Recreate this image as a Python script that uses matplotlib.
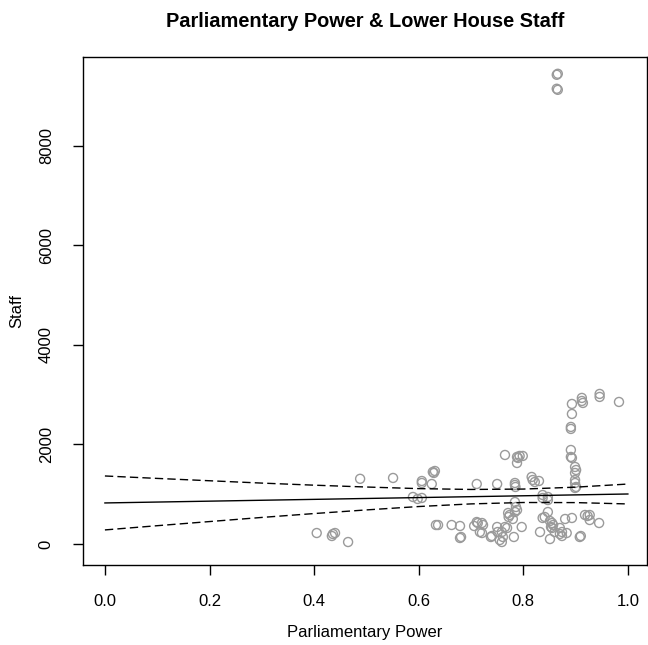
import matplotlib
matplotlib.use("Agg")
import matplotlib.pyplot as plt

plt.rcParams['font.family'] = ['Liberation Sans', 'DejaVu Sans']

# scatter points: parliamentary power vs lower house staff
power = [0.405, 0.434, 0.436, 0.440, 0.465, 0.488, 0.551, 0.589, 0.598, 0.606,
         0.606, 0.606, 0.627, 0.629, 0.631, 0.625, 0.633, 0.637, 0.663, 0.679,
         0.679, 0.681, 0.706, 0.711, 0.713, 0.721, 0.723, 0.717, 0.721, 0.711,
         0.738, 0.740, 0.750, 0.751, 0.755, 0.750, 0.759, 0.761, 0.759, 0.765,
         0.769, 0.765, 0.771, 0.774, 0.772, 0.780, 0.782, 0.784, 0.786, 0.788,
         0.784, 0.784, 0.784, 0.785, 0.788, 0.790, 0.788, 0.793, 0.799, 0.797,
         0.816, 0.818, 0.822, 0.830, 0.832, 0.837, 0.837, 0.847, 0.847, 0.847,
         0.837, 0.841, 0.851, 0.855, 0.853, 0.855, 0.857, 0.851, 0.860, 0.870,
         0.874, 0.870, 0.874, 0.883, 0.864, 0.866, 0.864, 0.866, 0.880, 0.893,
         0.891, 0.891, 0.893, 0.899, 0.901, 0.899, 0.899, 0.899, 0.901, 0.899,
         0.893, 0.893, 0.891, 0.891, 0.912, 0.912, 0.914, 0.946, 0.946, 0.983,
         0.908, 0.910, 0.918, 0.923, 0.927, 0.927, 0.945]
staff = [221, 161, 201, 221, 40, 1310, 1327, 945, 905, 925,
         1266, 1226, 1447, 1427, 1467, 1206, 382, 382, 382, 362,
         121, 141, 362, 442, 422, 422, 382, 241, 221, 1206,
         141, 161, 342, 241, 80, 1206, 241, 141, 40, 342,
         322, 1789, 623, 583, 543, 503, 141, 844, 744, 683,
         643, 1226, 1186, 1146, 1749, 1729, 1628, 1769, 1769, 342,
         1347, 1286, 1246, 1266, 241, 985, 925, 945, 884, 643,
         523, 543, 462, 422, 342, 322, 382, 100, 241, 322,
         241, 201, 161, 221, 9427, 9447, 9146, 9125, 503, 523,
         1889, 1749, 1729, 1548, 1487, 1427, 1286, 1226, 1146, 1126,
         2814, 2613, 2352, 2312, 2935, 2874, 2834, 3015, 2955, 2854,
         141, 161, 583, 563, 482, 583, 422]

# fitted line with confidence band, read at these x values
grid_x = [0.0, 0.1, 0.2, 0.3, 0.4, 0.5, 0.6, 0.7, 0.8, 0.9, 1.0]
fit_y = [825, 843, 861, 879, 897, 915, 933, 951, 969, 987, 1005]
upper_y = [1367, 1318, 1271, 1224, 1182, 1145, 1113, 1096, 1104, 1142, 1205]
lower_y = [283, 368, 451, 534, 612, 685, 753, 806, 834, 832, 805]

x_ticks = [0.0, 0.2, 0.4, 0.6, 0.8, 1.0]
y_ticks = [0, 2000, 4000, 6000, 8000]

fig = plt.figure(figsize=(6.48, 6.45), dpi=100)
ax = fig.add_axes([0.128, 0.124, 0.870, 0.788])

ax.scatter(power, staff, s=42, facecolors='none', edgecolors='#9a9a9a', linewidths=1.0, zorder=2)
ax.plot(grid_x, fit_y, color='black', lw=1.0, zorder=3)
ax.plot(grid_x, upper_y, color='black', lw=1.0, dashes=(6, 3), zorder=3)
ax.plot(grid_x, lower_y, color='black', lw=1.0, dashes=(6, 3), zorder=3)

ax.set_xlim(-0.042, 1.036)
ax.set_ylim(-422, 9789)
ax.set_xticks(x_ticks)
ax.set_xticklabels(['%.1f' % v for v in x_ticks])
ax.set_yticks(y_ticks)
ax.set_yticklabels([str(v) for v in y_ticks], rotation=90, va='center')
ax.tick_params(direction='out', length=7, width=1, labelsize=12, pad=14)

for sp in ax.spines.values():
    sp.set_linewidth(1.0)

ax.set_xlabel('Parliamentary Power', fontsize=12, va='center')
ax.set_ylabel('Staff', fontsize=12, va='center')
ax.xaxis.set_label_coords(0.5, -0.132)
ax.yaxis.set_label_coords(-0.117, 0.5)
# R centres the main title over the plot region
ax.text(0.5, 1 + 35 / 508, 'Parliamentary Power & Lower House Staff', transform=ax.transAxes,
        ha='center', va='center', fontsize=14.4, fontweight='bold')

fig.savefig('out.png', dpi=100)
